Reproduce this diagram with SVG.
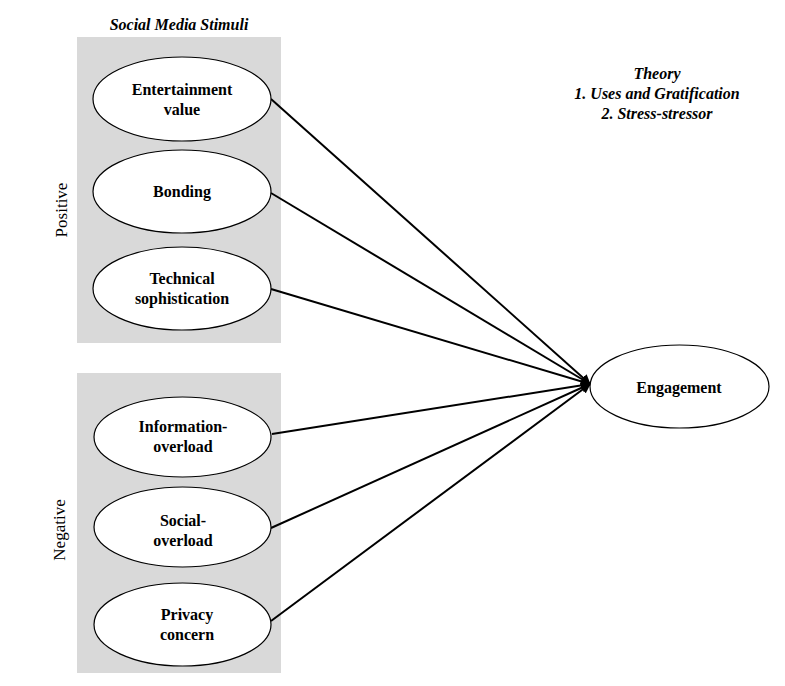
<svg xmlns="http://www.w3.org/2000/svg" width="785" height="686" viewBox="0 0 785 686" font-family="Liberation Serif, DejaVu Serif, Times New Roman, serif">
<style>
.box{fill:#d9d9d9;stroke:none}
.node{fill:#fff;stroke:#000;stroke-width:1.2}
.t{font-size:16px;font-weight:bold;text-anchor:middle;fill:#000}
.it{font-size:16px;font-weight:bold;font-style:italic;text-anchor:middle;fill:#000}
.side{font-size:17px;text-anchor:middle;fill:#000}
.edge{stroke:#000;stroke-width:2;fill:none;marker-end:url(#arr)}
</style>
<defs>
<marker id="arr" viewBox="0 0 10 10" refX="9" refY="5" markerWidth="5" markerHeight="5" orient="auto" markerUnits="strokeWidth">
<path d="M0,0 L10,5 L0,10 z" fill="#000"/>
</marker>
</defs>
<rect width="785" height="686" fill="#fff"/>
<rect class="box" x="77" y="37" width="204" height="306"/>
<rect class="box" x="77" y="373" width="204" height="300"/>
<text class="it" x="179" y="30">Social Media Stimuli</text>
<text class="side" transform="translate(67,210) rotate(-90)">Positive</text>
<text class="side" transform="translate(65,530) rotate(-90)">Negative</text>
<g>
<text class="it" x="657" y="79">Theory</text>
<text class="it" x="657" y="99">1. Uses and Gratification</text>
<text class="it" x="657" y="119">2. Stress-stressor</text>
</g>
<g id="connectors">
<line class="edge" x1="271" y1="99" x2="590" y2="384"/>
<line class="edge" x1="271" y1="193" x2="590" y2="384"/>
<line class="edge" x1="271" y1="289" x2="590" y2="384"/>
<line class="edge" x1="272" y1="434" x2="590" y2="384"/>
<line class="edge" x1="271" y1="528" x2="590" y2="384"/>
<line class="edge" x1="271" y1="621" x2="590" y2="384"/>
</g>
<g id="entertainment">
<ellipse class="node" cx="182" cy="99" rx="89" ry="42"/>
<text class="t" x="182" y="95">Entertainment</text>
<text class="t" x="182" y="115">value</text>
</g>
<g id="bonding">
<ellipse class="node" cx="182" cy="191.5" rx="89" ry="41.5"/>
<text class="t" x="182" y="197">Bonding</text>
</g>
<g id="technical">
<ellipse class="node" cx="182" cy="288.5" rx="89" ry="41.5"/>
<text class="t" x="182" y="284">Technical</text>
<text class="t" x="182" y="304">sophistication</text>
</g>
<g id="information">
<ellipse class="node" cx="182.5" cy="437" rx="88.5" ry="40"/>
<text class="t" x="183" y="432">Information-</text>
<text class="t" x="183" y="452">overload</text>
</g>
<g id="social">
<ellipse class="node" cx="182.5" cy="527" rx="88.5" ry="40"/>
<text class="t" x="183" y="526">Social-</text>
<text class="t" x="183" y="546">overload</text>
</g>
<g id="privacy">
<ellipse class="node" cx="182.5" cy="624.5" rx="88.5" ry="41.5"/>
<text class="t" x="187" y="620">Privacy</text>
<text class="t" x="187" y="640">concern</text>
</g>
<g id="engagement">
<ellipse class="node" cx="679.5" cy="386.5" rx="89.5" ry="41.5"/>
<text class="t" x="679" y="393">Engagement</text>
</g>
</svg>
